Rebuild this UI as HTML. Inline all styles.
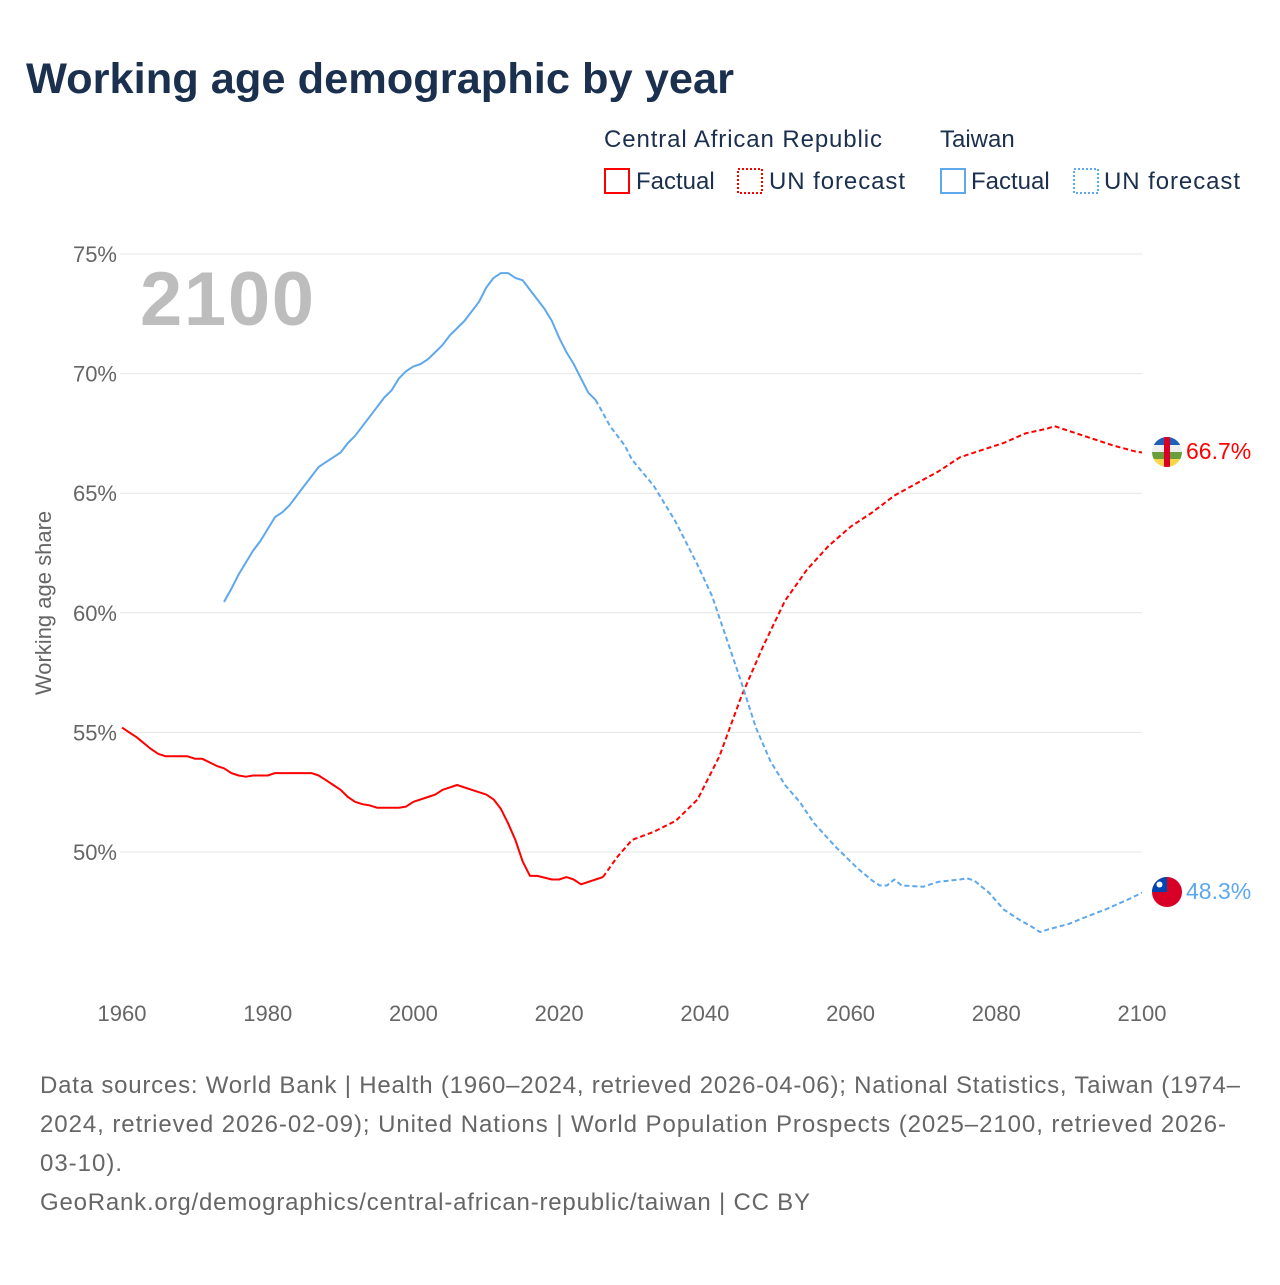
<!DOCTYPE html>
<html><head><meta charset="utf-8">
<style>
body{margin:0;background:#fff;width:1280px;height:1280px;overflow:hidden;font-family:"Liberation Sans",sans-serif;}
svg text{font-family:"Liberation Sans",sans-serif;}
</style></head>
<body>
<svg id="chart" width="1280" height="1280" xmlns="http://www.w3.org/2000/svg">
<text x="26" y="93" font-size="43" font-weight="bold" fill="#1b2f4e" textLength="708" lengthAdjust="spacingAndGlyphs">Working age demographic by year</text>
<g font-size="24" fill="#1b2f4e">
<text x="604" y="147" textLength="278">Central African Republic</text>
<text x="940" y="147">Taiwan</text>
<g><rect x="605" y="169" width="24" height="24" fill="none" stroke="#f00" stroke-width="2"/><text x="636" y="189">Factual</text></g>
<g><rect x="738" y="169" width="24" height="24" fill="none" stroke="#f00" stroke-width="2" stroke-dasharray="2,2"/><text x="769" y="189" textLength="136">UN forecast</text></g>
<g><rect x="941" y="169" width="24" height="24" fill="none" stroke="#5ea8ec" stroke-width="2"/><text x="971" y="189">Factual</text></g>
<g><rect x="1074" y="169" width="24" height="24" fill="none" stroke="#5ea8ec" stroke-width="2" stroke-dasharray="2,2"/><text x="1104" y="189" textLength="136">UN forecast</text></g>
</g>
<text x="140" y="325" font-size="76" font-weight="bold" fill="#bdbdbd" textLength="174">2100</text>
<g id="grid"></g>
<g id="yticks" font-size="22" fill="#666" text-anchor="end"></g>
<g id="xticks" font-size="22" fill="#666" text-anchor="middle"></g>
<text transform="translate(51,603) rotate(-90)" font-size="22" fill="#666" text-anchor="middle">Working age share</text>
<g id="series"></g>
<g>
<clipPath id="c1"><circle cx="1167" cy="452" r="15"/></clipPath>
<g clip-path="url(#c1)"><rect x="1152" y="437" width="30" height="8" fill="#1f5fb8"/><rect x="1152" y="445" width="30" height="7" fill="#eee"/><rect x="1152" y="452" width="30" height="7" fill="#6a9e3a"/><rect x="1152" y="459" width="30" height="8" fill="#f8d64c"/><rect x="1164" y="437" width="6" height="30" fill="#d80027"/></g>
</g>
<text id="carLabel" x="1186" y="459" font-size="23" fill="#f00">66.7%</text>
<g>
<clipPath id="c2"><circle cx="1167" cy="892" r="15"/></clipPath>
<g clip-path="url(#c2)"><rect x="1152" y="877" width="30" height="30" fill="#d80027"/><rect x="1152" y="877" width="15" height="15" fill="#0046ae"/><circle cx="1159.5" cy="884.5" r="3" fill="#fff"/></g>
</g>
<text id="twLabel" x="1186" y="899" font-size="23" fill="#5ea8ec">48.3%</text>
<g font-size="24" fill="#666">
<text x="40" y="1093" textLength="1200">Data sources: World Bank | Health (1960–2024, retrieved 2026-04-06); National Statistics, Taiwan (1974–</text>
<text x="40" y="1132" textLength="1186">2024, retrieved 2026-02-09); United Nations | World Population Prospects (2025–2100, retrieved 2026-</text>
<text x="40" y="1171" textLength="82">03-10).</text>
<text x="40" y="1210" textLength="770">GeoRank.org/demographics/central-african-republic/taiwan | CC BY</text>
</g>
</svg>
<script>
const yTicks=[50,55,60,65,70,75];
const xTicks=[1960,1980,2000,2020,2040,2060,2080,2100];
const carYears=[1960,1962,1964,1965,1966,1969,1970,1971,1973,1974,1975,1976,1977,1978,1980,1981,1986,1987,1988,1989,1990,1991,1992,1993,1994,1995,1998,1999,2000,2002,2003,2004,2006,2008,2010,2011,2012,2013,2014,2015,2016,2017,2019,2020,2021,2022,2023,2025,2026];
const carValues=[55.2,54.8,54.3,54.1,54.0,54.0,53.9,53.9,53.6,53.5,53.3,53.2,53.15,53.2,53.2,53.3,53.3,53.2,53.0,52.8,52.6,52.3,52.1,52.0,51.95,51.85,51.85,51.9,52.1,52.3,52.4,52.6,52.8,52.6,52.4,52.2,51.8,51.2,50.5,49.6,49.0,49.0,48.85,48.85,48.95,48.85,48.65,48.85,48.95];
const carFcYears=[2026,2028,2030,2033,2036,2039,2042,2045,2048,2051,2054,2057,2060,2063,2066,2069,2072,2075,2078,2081,2084,2087,2088,2090,2093,2096,2099,2100];
const carFcValues=[48.95,49.8,50.5,50.85,51.3,52.2,54.0,56.5,58.6,60.5,61.8,62.8,63.6,64.2,64.9,65.4,65.9,66.5,66.8,67.1,67.5,67.7,67.8,67.6,67.3,67.0,66.75,66.7];
const twYears=[1974,1975,1976,1978,1979,1980,1981,1982,1983,1985,1987,1988,1990,1991,1992,1994,1996,1997,1998,1999,2000,2001,2002,2003,2004,2005,2007,2009,2010,2011,2012,2013,2014,2015,2016,2018,2019,2020,2021,2022,2023,2024,2025];
const twValues=[60.45,61.0,61.6,62.6,63.0,63.5,64.0,64.2,64.5,65.3,66.1,66.3,66.7,67.1,67.4,68.2,69.0,69.3,69.8,70.1,70.3,70.4,70.6,70.9,71.2,71.6,72.2,73.0,73.6,74.0,74.2,74.2,74.0,73.9,73.5,72.7,72.2,71.5,70.9,70.4,69.8,69.2,68.9];
const twFcYears=[2025,2027,2029,2030,2033,2036,2039,2041,2043,2045,2047,2049,2051,2053,2055,2058,2061,2063,2064,2065,2066,2067,2070,2072,2075,2076,2077,2079,2081,2083,2085,2086,2087,2090,2092,2095,2098,2100];
const twFcValues=[68.9,67.8,67.0,66.4,65.3,63.8,62.0,60.7,58.9,57.1,55.2,53.8,52.8,52.1,51.2,50.2,49.3,48.8,48.6,48.6,48.85,48.6,48.55,48.75,48.85,48.9,48.8,48.3,47.6,47.2,46.85,46.65,46.75,47.0,47.25,47.6,48.0,48.3];

const X=y=>122+(y-1960)*(1142-122)/140;
const Y=v=>852-(v-50)*(852-254)/25;
const NS='http://www.w3.org/2000/svg';
function mk(tag,parent){const e=document.createElementNS(NS,tag);parent.appendChild(e);return e;}
const grid=document.getElementById('grid'),yt=document.getElementById('yticks'),xt=document.getElementById('xticks'),ser=document.getElementById('series');
yTicks.forEach(v=>{
  const l=mk('line',grid);
  
  
  l.setAttribute('x1',120);l.setAttribute('x2',1142);l.setAttribute('y1',Y(v));l.setAttribute('y2',Y(v));
  l.setAttribute('stroke','#e6e6e6');l.setAttribute('stroke-width','1');
  const t=mk('text',yt);
  
  
  t.setAttribute('x',117);t.setAttribute('y',Y(v)+8);t.textContent=v+'%';
});
xTicks.forEach(v=>{
  const t=mk('text',xt);
  
  
  t.setAttribute('x',X(v));t.setAttribute('y',1021);t.textContent=v;
});
function line(xs,vs,color,dash,name){
  const p=mk('path',ser);
  
  
  p.setAttribute('d',xs.map((x,i)=>(i?'L':'M')+X(x).toFixed(1)+','+Y(vs[i]).toFixed(1)).join(''));
  p.setAttribute('fill','none');p.setAttribute('stroke',color);p.setAttribute('stroke-width','2');
  p.setAttribute('stroke-linejoin','round');
  if(dash)p.setAttribute('stroke-dasharray','5,3');
}
line(carYears,carValues,'#f00',false,'car-factual-line');
line(carFcYears,carFcValues,'#f00',true,'car-forecast-line');
line(twYears,twValues,'#5ea8ec',false,'taiwan-factual-line');
line(twFcYears,twFcValues,'#5ea8ec',true,'taiwan-forecast-line');
</script>
</body></html>
